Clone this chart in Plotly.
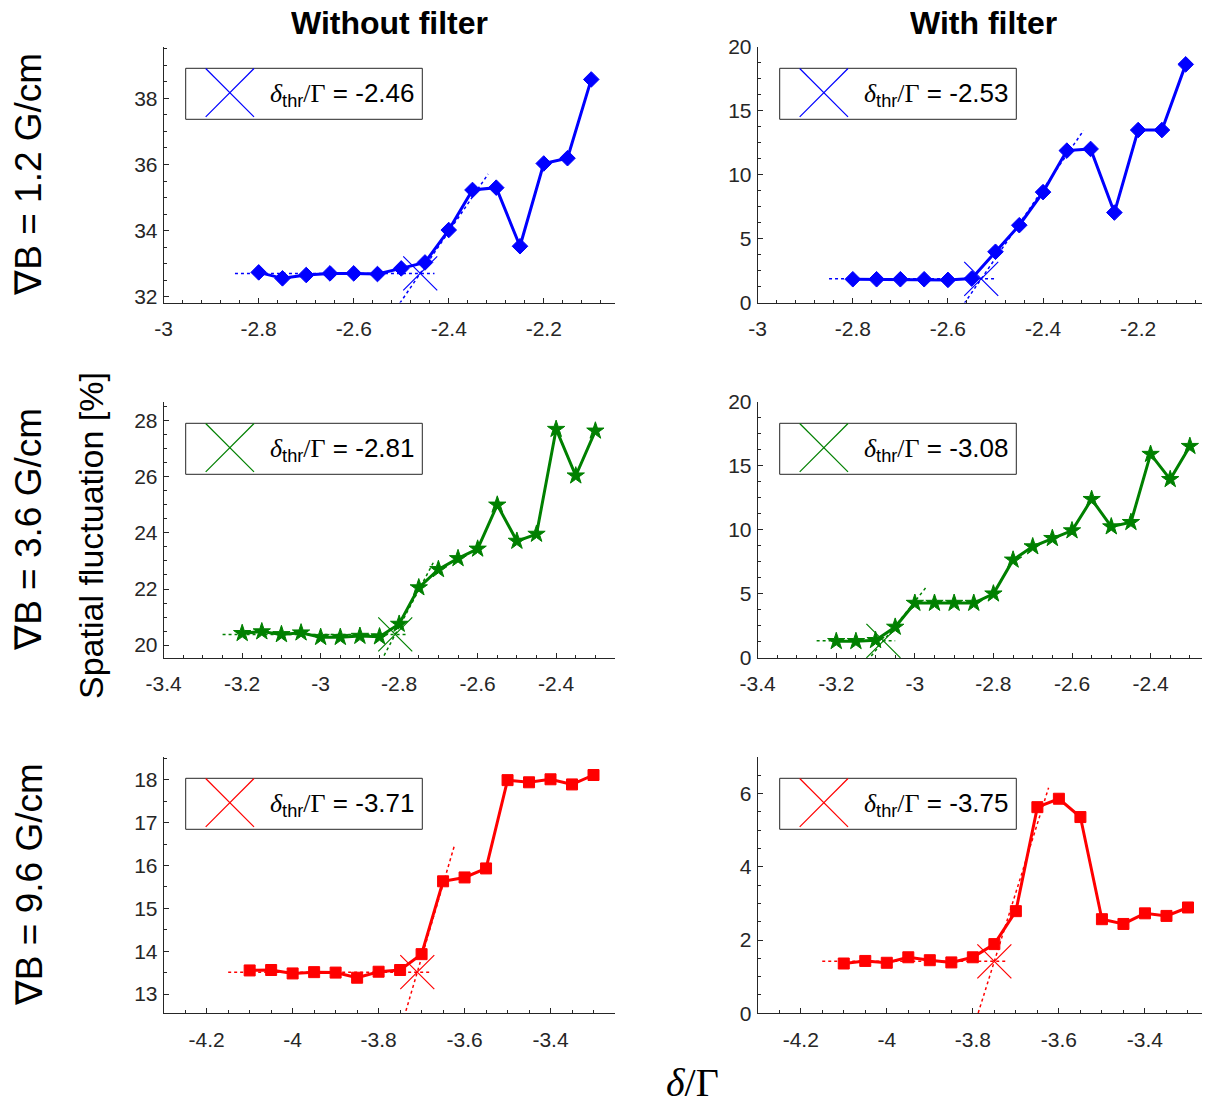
import plotly.graph_objects as go
import numpy as np

# ---------------- data ----------------
x_12 = [-2.80, -2.75, -2.70, -2.65, -2.60, -2.55, -2.50, -2.45, -2.40, -2.35, -2.30, -2.25, -2.20, -2.15, -2.10]
y_12_nofilter = [32.74, 32.56, 32.66, 32.71, 32.71, 32.69, 32.86, 33.04, 34.02, 35.23, 35.30, 33.53, 36.03, 36.19, 38.57]
y_12_filter = [1.82, 1.82, 1.82, 1.82, 1.77, 1.87, 3.97, 6.05, 8.64, 11.89, 12.02, 7.04, 13.50, 13.50, 18.64]

x_36 = [-3.20, -3.15, -3.10, -3.05, -3.00, -2.95, -2.90, -2.85, -2.80, -2.75, -2.70, -2.65, -2.60, -2.55,
        -2.50, -2.45, -2.40, -2.35, -2.30]
y_36_nofilter = [20.42, 20.48, 20.38, 20.44, 20.28, 20.28, 20.32, 20.30, 20.75, 22.05, 22.70, 23.09, 23.43,
                 25.00, 23.71, 23.96, 27.70, 26.04, 27.64]
y_36_filter = [1.28, 1.28, 1.36, 2.40, 4.27, 4.27, 4.27, 4.27, 5.00, 7.65, 8.69, 9.34, 9.94, 12.39, 10.25,
               10.59, 15.92, 13.95, 16.54]

x_96 = [-4.10, -4.05, -4.00, -3.95, -3.90, -3.85, -3.80, -3.75, -3.70, -3.65, -3.60, -3.55, -3.50, -3.45,
        -3.40, -3.35, -3.30]
y_96_nofilter = [13.55, 13.56, 13.48, 13.51, 13.50, 13.38, 13.52, 13.56, 13.93, 15.63, 15.72, 15.93, 17.99,
                 17.94, 18.01, 17.89, 18.11]
y_96_filter = [1.36, 1.43, 1.38, 1.53, 1.45, 1.39, 1.53, 1.89, 2.79, 5.63, 5.86, 5.36, 2.57, 2.44, 2.73,
               2.66, 2.89]

# threshold fits: threshold, plateau level, slope, plateau start, slope-line end
thresholds = [-2.46, -2.53, -2.81, -3.08, -3.71, -3.75]
fit_levels = [32.71, 1.85, 20.38, 1.32, 13.51, 1.42]
fit_slopes = [21.0, 54.0, 26.4, 38.5, 34.2, 37.6]
fit_flat_start = [-2.85, -2.85, -3.25, -3.25, -4.15, -4.15]
fit_slope_end = [-2.317, -2.315, -2.712, -2.969, -3.623, -3.624]

column_titles = ["Without filter", "With filter"]
row_labels = ["∇B = 1.2 G/cm", "∇B = 3.6 G/cm", "∇B = 9.6 G/cm"]

# axis ranges and ticks
x_ranges = [[-3.0, -2.05], [-3.0, -2.05], [-3.4, -2.25], [-3.4, -2.25], [-4.3, -3.25], [-4.3, -3.25]]
y_ranges = [[31.83, 39.55], [0, 20], [19.55, 28.67], [0, 20], [12.55, 18.53], [0, 7]]
x_ticks_12 = [-3.0, -2.8, -2.6, -2.4, -2.2]
x_ticklabels_12 = ["-3", "-2.8", "-2.6", "-2.4", "-2.2"]
x_ticks_36 = [-3.4, -3.2, -3.0, -2.8, -2.6, -2.4]
x_ticklabels_36 = ["-3.4", "-3.2", "-3", "-2.8", "-2.6", "-2.4"]
x_ticks_96 = [-4.2, -4.0, -3.8, -3.6, -3.4]
x_ticklabels_96 = ["-4.2", "-4", "-3.8", "-3.6", "-3.4"]
y_ticks = [[32, 34, 36, 38], [0, 5, 10, 15, 20], [20, 22, 24, 26, 28], [0, 5, 10, 15, 20],
           [13, 14, 15, 16, 17, 18], [0, 2, 4, 6]]
x_minor_step = [0.04, 0.04, 0.05, 0.05, 0.05, 0.05]
y_minor_step = [0.5, 1.25, 0.5, 1.25, 0.5, 0.5]

series_x = [x_12, x_12, x_36, x_36, x_96, x_96]
series_y = [y_12_nofilter, y_12_filter, y_36_nofilter, y_36_filter, y_96_nofilter, y_96_filter]
x_tickvals = [x_ticks_12, x_ticks_12, x_ticks_36, x_ticks_36, x_ticks_96, x_ticks_96]
x_ticktext = [x_ticklabels_12, x_ticklabels_12, x_ticklabels_36, x_ticklabels_36, x_ticklabels_96, x_ticklabels_96]
colors = ["#0000FF", "#0000FF", "#008000", "#008000", "#FF0000", "#FF0000"]
symbols = ["diamond", "diamond", "star", "star", "square", "square"]
msizes = [12, 12, 13, 13, 11, 11]

# ---------------- layout geometry ----------------
# the page body adds an 8px margin; the figure is sized/positioned to compensate
OFF = 8
W, H = 1210 - OFF, 1107 - OFF
col_px = [(163.7, 615.0), (757.7, 1209.5)]
row_px = [(47.0, 302.5), (402.0, 657.7), (757.0, 1013.3)]
px = lambda p: (p - OFF) / W
py = lambda p: 1 - (p - OFF) / H

AX = "#262626"
SANS = "Liberation Sans, Arial, sans-serif"
SERIF = "Liberation Serif, Times New Roman, serif"

fig = go.Figure()
layout = dict(width=W, height=H, margin=dict(l=0, r=0, t=0, b=0, pad=0, autoexpand=False), autosize=False,
              paper_bgcolor="white", plot_bgcolor="white", showlegend=False, template="none")
shapes = []
annotations = []

for i in range(6):
    r, c = divmod(i, 2)
    n = i + 1
    xs = "" if n == 1 else str(n)
    xname, yname = "xaxis" + xs, "yaxis" + xs
    xref, yref = "x" + xs, "y" + xs
    x0p, x1p = col_px[c]
    y0p, y1p = row_px[r]
    axw, axh = x1p - x0p, y1p - y0p

    xr, yr = x_ranges[i], y_ranges[i]
    xminor = list(np.arange(xr[0], xr[1] + 1e-9, x_minor_step[i]))
    yminor = list(np.arange(np.ceil(yr[0] / y_minor_step[i]) * y_minor_step[i], yr[1] + 1e-9, y_minor_step[i]))

    layout[xname] = dict(domain=[px(x0p), px(x1p)], anchor=yref, range=xr, automargin=False,
                         showline=True, linecolor=AX, linewidth=1, mirror=False,
                         showgrid=False, zeroline=False, ticks="inside", ticklen=5, tickwidth=1, tickcolor=AX,
                         tickmode="array", tickvals=x_tickvals[i], ticktext=x_ticktext[i],
                         tickfont=dict(family=SANS, size=21, color=AX), ticklabelstandoff=7,
                         minor=dict(tickmode="array", tickvals=xminor, ticks="inside", ticklen=3,
                                    tickcolor=AX, showgrid=False))
    layout[yname] = dict(domain=[py(y1p), py(y0p)], anchor=xref, range=yr, automargin=False,
                         showline=True, linecolor=AX, linewidth=1, mirror=False,
                         showgrid=False, zeroline=False, ticks="inside", ticklen=5, tickwidth=1, tickcolor=AX,
                         tickmode="array", tickvals=y_ticks[i], ticktext=[str(v) for v in y_ticks[i]],
                         tickfont=dict(family=SANS, size=21, color=AX), ticklabelstandoff=1,
                         minor=dict(tickmode="array", tickvals=yminor, ticks="inside", ticklen=3,
                                    tickcolor=AX, showgrid=False))

    col = colors[i]
    thr, lev, slp = thresholds[i], fit_levels[i], fit_slopes[i]
    # data series
    fig.add_trace(go.Scatter(x=series_x[i], y=series_y[i], xaxis=xref, yaxis=yref, mode="lines+markers",
                             line=dict(color=col, width=3),
                             marker=dict(symbol=symbols[i], size=msizes[i], color=col,
                                         line=dict(color=col, width=1)),
                             cliponaxis=False))
    # plateau fit (dotted)
    fx = [fit_flat_start[i], thr + 0.03]
    fig.add_trace(go.Scatter(x=fx, y=[lev, lev], xaxis=xref, yaxis=yref, mode="lines",
                             line=dict(color=col, width=1.5, dash="dot")))
    # rising fit (dotted)
    sx = [thr - 0.05, fit_slope_end[i]]
    fig.add_trace(go.Scatter(x=sx, y=[lev + slp * (v - thr) for v in sx], xaxis=xref, yaxis=yref,
                             mode="lines", line=dict(color=col, width=1.5, dash="dot")))
    # threshold cross
    fig.add_trace(go.Scatter(x=[thr], y=[lev], xaxis=xref, yaxis=yref, mode="markers",
                             marker=dict(symbol="x-thin", size=34, color=col, opacity=1,
                                         line=dict(color=col, width=1.2)),
                             cliponaxis=False))

    # legend box
    dx, dy = xref + " domain", yref + " domain"
    fxp = lambda p: p / axw
    fyp = lambda p: 1 - p / axh
    shapes.append(dict(type="rect", xref=dx, yref=dy, x0=fxp(22), x1=fxp(258.6), y0=fyp(72.3), y1=fyp(21.3),
                       line=dict(color=AX, width=1), fillcolor="white", layer="above"))
    shapes.append(dict(type="line", xref=dx, yref=dy, x0=fxp(42), x1=fxp(90.3), y0=fyp(21.5), y1=fyp(69.8),
                       line=dict(color=col, width=1.2), layer="above"))
    shapes.append(dict(type="line", xref=dx, yref=dy, x0=fxp(42), x1=fxp(90.3), y0=fyp(69.8), y1=fyp(21.5),
                       line=dict(color=col, width=1.2), layer="above"))
    txt = ("<span style=\"font-family:Liberation Serif\"><i>δ</i></span><sub>thr</sub>"
           "<span style=\"font-family:Liberation Serif\">/Γ</span> = " + ("%.2f" % thr))
    annotations.append(dict(text=txt, xref=dx, yref=dy, x=fxp(104), y=fyp(47), xanchor="left",
                            yanchor="middle", showarrow=False, font=dict(family=SANS, size=26, color="black")))

# column titles
for c in range(2):
    annotations.append(dict(text="<b>" + column_titles[c] + "</b>", xref="paper", yref="paper",
                            x=px((col_px[c][0] + col_px[c][1]) / 2), y=py(23), xanchor="center",
                            yanchor="middle", height=26, valign="middle", showarrow=False,
                            font=dict(family=SANS, size=32, color="black")))
# row labels
for r in range(3):
    annotations.append(dict(text=row_labels[r], xref="paper", yref="paper", x=px(29),
                            y=py((row_px[r][0] + row_px[r][1]) / 2), xanchor="center", yanchor="middle",
                            textangle=-90, showarrow=False, font=dict(family=SANS, size=37, color="black")))
# y label
annotations.append(dict(text="Spatial fluctuation [%]", xref="paper", yref="paper", x=px(91), y=py(536),
                        xanchor="center", yanchor="middle", textangle=-90, showarrow=False,
                        font=dict(family=SANS, size=34, color="black")))
# x label
annotations.append(dict(text="<i>δ</i>/Γ", xref="paper", yref="paper", x=px(692), y=py(1082),
                        xanchor="center", yanchor="middle", showarrow=False,
                        font=dict(family=SERIF, size=40, color="black")))

layout["shapes"] = shapes
layout["annotations"] = annotations
fig.update_layout(**layout)
fig.write_html("out.html", config={"displayModeBar": False})
